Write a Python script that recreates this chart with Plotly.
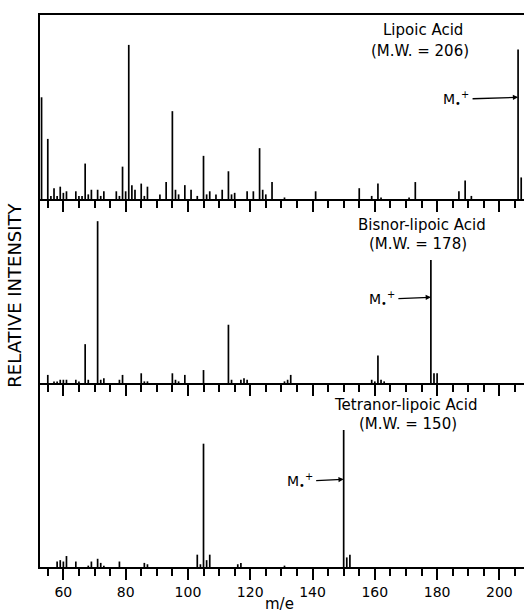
import plotly.graph_objects as go
from plotly.subplots import make_subplots

# ---- data (m/e and relative intensity, % of base peak in each spectrum) ----
lipoic_mz = [53, 55, 56, 57, 58, 59, 60, 61, 64, 65, 66, 67, 68, 69, 71, 72, 73, 77, 78, 79,
             80, 81, 82, 83, 85, 86, 87, 91, 93, 95, 96, 97, 99, 101, 103, 105, 106, 107, 109,
             111, 113, 114, 115, 119, 121, 123, 124, 125, 127, 131, 141, 155, 159, 161, 162,
             171, 173, 187, 189, 191, 206, 207]
lipoic_int = [66, 39, 2, 7, 2, 8, 4, 5, 5, 2, 2, 23, 3, 6, 6, 2, 5, 5, 2, 21,
              5, 100, 9, 6, 10, 2, 8, 3, 11, 57, 6, 3, 9, 6, 2, 28, 3, 5, 3,
              6, 18, 3, 4, 5, 5, 33, 6, 3, 11, 1, 5, 7, 2, 10, 1,
              1, 11, 5, 12, 2, 97, 14]

bisnor_mz = [55, 57, 58, 59, 60, 61, 64, 65, 67, 68, 71, 72, 73, 78, 79, 85, 86, 87, 95, 96,
             97, 99, 105, 113, 114, 117, 118, 119, 131, 132, 133, 159, 160, 161, 162, 163,
             178, 179, 180]
bisnor_int = [5, 1, 1, 2, 2, 2, 2, 1, 24, 2, 100, 2, 3, 2, 5, 6, 1, 1, 6, 2,
              1, 5, 8, 36, 2, 2, 3, 2, 1, 2, 5, 2, 1, 17, 2, 1,
              76, 6, 6]

tetranor_mz = [58, 59, 60, 61, 64, 68, 69, 71, 72, 73, 78, 86, 87, 103, 104, 105, 106, 107,
               116, 117, 131, 150, 151, 152]
tetranor_int = [4, 5, 4, 8, 4, 1, 4, 6, 3, 1, 4, 3, 2, 9, 2, 90, 5, 9,
                2, 3, 1, 100, 7, 9]

compound_names = ["Lipoic Acid", "Bisnor-lipoic Acid", "Tetranor-lipoic Acid"]
molecular_weights = [206, 178, 150]
x_tick_labels = [60, 80, 100, 120, 140, 160, 180, 200]

spectra = [(lipoic_mz, lipoic_int), (bisnor_mz, bisnor_int), (tetranor_mz, tetranor_int)]

# ---- figure ----
FONT = "DejaVu Sans"
fig = make_subplots(rows=3, cols=1, shared_xaxes=True, vertical_spacing=0)

for i, (mz, inten) in enumerate(spectra):
    xs, ys = [], []
    for m, v in zip(mz, inten):
        xs += [m, m, None]
        ys += [0, v, None]
    fig.add_trace(go.Scatter(x=xs, y=ys, mode="lines",
                             line=dict(color="black", width=1.7),
                             hoverinfo="skip", showlegend=False), row=i + 1, col=1)

y_tops = [119.4, 113.7, 134.3]
for i in range(3):
    fig.update_yaxes(range=[0, y_tops[i]], showline=True, linecolor="black", linewidth=2,
                     ticks="", showticklabels=False, showgrid=False, zeroline=False,
                     row=i + 1, col=1)
    fig.update_xaxes(range=[52.5, 207.9], showline=True, linecolor="black", linewidth=2,
                     showgrid=False, zeroline=False,
                     tickmode="array", tickvals=x_tick_labels,
                     ticktext=[str(t) for t in x_tick_labels],
                     ticks="outside", ticklen=11, tickwidth=2, tickcolor="black",
                     minor=dict(dtick=5, tick0=0, ticks="outside", ticklen=7,
                                tickwidth=1.5, tickcolor="black", showgrid=False),
                     showticklabels=(i == 2),
                     tickfont=dict(family=FONT, size=14, color="black"),
                     row=i + 1, col=1)
fig.update_xaxes(mirror=True, row=1, col=1)

annotations = []
# compound titles
title_pos = [(0.791, 0.972, 0.785, 0.935), (0.790, 0.620, 0.781, 0.585),
             (0.756, 0.293, 0.761, 0.259)]
for name, mw, (tx, ty, mx, my) in zip(compound_names, molecular_weights, title_pos):
    annotations.append(dict(x=tx, y=ty, xref="paper", yref="paper", text=name,
                            showarrow=False, xanchor="center", yanchor="middle",
                            font=dict(family=FONT, size=15, color="black")))
    annotations.append(dict(x=mx, y=my, xref="paper", yref="paper",
                            text="(M.W. = %d)" % mw,
                            showarrow=False, xanchor="center", yanchor="middle",
                            font=dict(family=FONT, size=15, color="black")))

# molecular ion arrows
arrow_y = [66, 53, 64]
arrow_ax = [-62, -49, -44]
for i, mw in enumerate(molecular_weights):
    sfx = "" if i == 0 else str(i + 1)
    annotations.append(dict(x=mw, y=arrow_y[i], xref="x" + sfx, yref="y" + sfx,
                            text="M<sub>•</sub><sup>+</sup>", showarrow=True,
                            ax=arrow_ax[i], ay=2, axref="pixel", ayref="pixel",
                            arrowhead=2, arrowsize=0.8, arrowwidth=1.3, arrowcolor="black",
                            standoff=0, startstandoff=2,
                            font=dict(family=FONT, size=14, color="black")))

annotations.append(dict(x=-0.052, y=0.493, xref="paper", yref="paper",
                        text="RELATIVE INTENSITY", textangle=-90, showarrow=False,
                        xanchor="center", yanchor="middle",
                        font=dict(family=FONT, size=18, color="black")))
annotations.append(dict(x=0.495, y=-0.067, xref="paper", yref="paper",
                        text="m/e", showarrow=False, xanchor="center", yanchor="middle",
                        font=dict(family=FONT, size=15, color="black")))

fig.update_layout(width=524, height=615, margin=dict(l=40, r=0, t=15, b=48),
                  paper_bgcolor="white", plot_bgcolor="rgba(0,0,0,0)",
                  annotations=annotations, showlegend=False)

fig.write_html("out.html")
